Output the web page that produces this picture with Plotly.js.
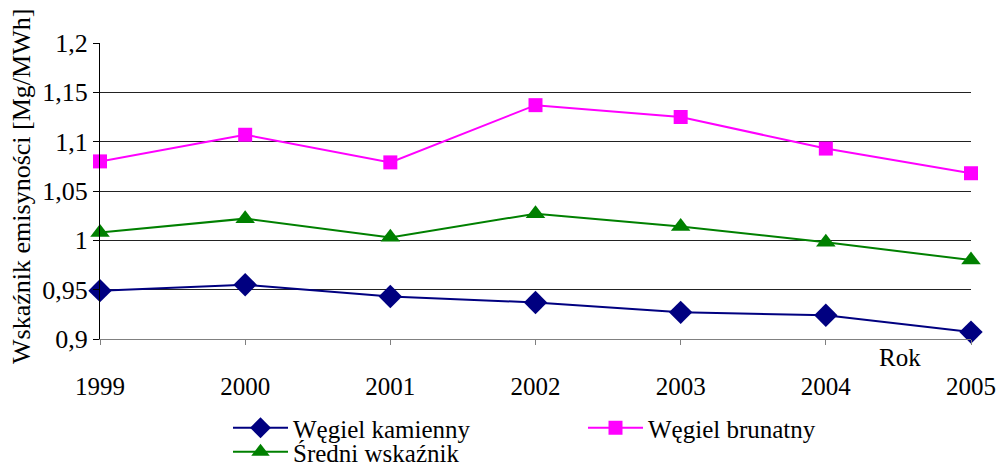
<!DOCTYPE html>
<html><head><meta charset="utf-8">
<script src="https://cdn.plot.ly/plotly-3.0.1.min.js"></script>
</head><body style="margin:0;padding:0;background:#fff"><div id="chart"></div>
<script>
var years = ['1999','2000','2001','2002','2003','2004','2005'];
var kamienny = [0.949, 0.955, 0.943, 0.937, 0.927, 0.924, 0.907];
var brunatny = [1.080, 1.107, 1.079, 1.137, 1.125, 1.093, 1.068];
var sredni = [1.008, 1.022, 1.003, 1.027, 1.014, 0.998, 0.980];
var yTicks = [0.9, 0.95, 1.0, 1.05, 1.1, 1.15, 1.2];
var yTickText = ['0,9', '0,95', '1', '1,05', '1,1', '1,15', '1,2'];

var serifFam = 'Liberation Serif';
function makeTrace(name, y, color, symbol, size, lgName) {
  return {type:'scatter', mode:'lines+markers', x: years, y: y, name: name, legend: lgName,
    line:{color: color, width: 2}, marker:{color: color, symbol: symbol, size: size},
    cliponaxis: false};
}
var traces = [
  makeTrace('Węgiel kamienny', kamienny, '#000080', 'diamond', 18, 'legend'),
  makeTrace('Węgiel brunatny', brunatny, '#FF00FF', 'square', 14, 'legend2'),
  makeTrace('Średni wskaźnik', sredni, '#008000', 'triangle-up', 17, 'legend3')
];
function makeLegend(x, y) {
  return {orientation: 'h', xref: 'container', yref: 'container', x: x, y: y,
    xanchor: 'left', yanchor: 'middle', itemwidth: 55,
    font: {family: serifFam, size: 25}, bgcolor: 'rgba(0,0,0,0)'};
}
var chartLayout = {
  width: 996, height: 470,
  margin: {l: 100, r: 25, t: 43, b: 131},
  font: {family: serifFam, size: 25, color: '#000'},
  showlegend: true,
  legend: makeLegend(228/996, 1 - 428/470),
  legend2: makeLegend(583/996, 1 - 428/470),
  legend3: makeLegend(228/996, 1 - 452/470),
  xaxis: {type: 'category', range: [0, 6], showgrid: false, zeroline: false,
    showline: true, linecolor: '#808080', linewidth: 1,
    ticks: 'outside', ticklen: 5, tickcolor: '#808080',
    ticklabelstandoff: 20, tickfont: {family: serifFam, size: 25}},
  yaxis: {range: [0.9, 1.2], tickvals: yTicks, ticktext: yTickText,
    showgrid: true, gridcolor: '#222', gridwidth: 1, zeroline: false,
    showline: true, linecolor: '#000', linewidth: 1,
    ticks: 'outside', ticklen: 6, tickcolor: '#000',
    tickfont: {family: serifFam, size: 26}},
  annotations: [
    {text: 'Wskaźnik emisyności [Mg/MWh]', xref: 'paper', yref: 'paper',
     x: -0.0896, y: 0.517, xanchor: 'center', yanchor: 'middle', textangle: -90,
     showarrow: false, font: {family: serifFam, size: 26}},
    {text: 'Rok', xref: 'paper', yref: 'paper', x: 0.918, y: -0.064,
     xanchor: 'center', yanchor: 'middle', showarrow: false,
     font: {family: serifFam, size: 25}}
  ]
};
Plotly.newPlot('chart', traces, chartLayout, {staticPlot: true});
</script></body></html>
